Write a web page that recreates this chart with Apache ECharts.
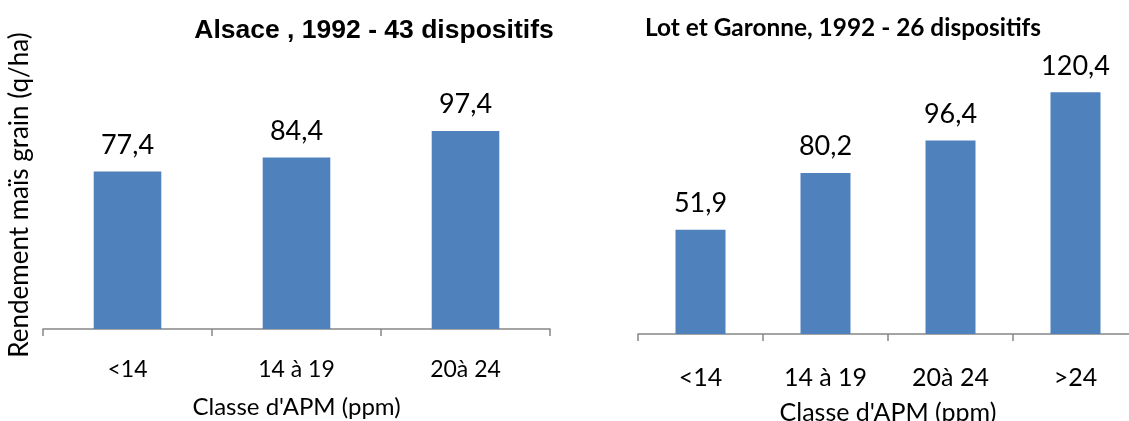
<!DOCTYPE html>
<html>
<head>
<meta charset="utf-8">
<script src="https://cdn.jsdelivr.net/npm/echarts@6/dist/echarts.min.js"></script>
<style>
  html, body { margin: 0; padding: 0; background: #fff; }
  #chart { width: 1129px; height: 421px; }
</style>
</head>
<body>
<div id="chart"></div>
<script>
// Maize grain yield by APM class, two regions (1992)
const alsaceCategories = ['<14', '14 à 19', '20à 24'];
const alsaceValues = [77.4, 84.4, 97.4];
const lotCategories = ['<14', '14 à 19', '20à 24', '>24'];
const lotValues = [51.9, 80.2, 96.4, 120.4];

const alsaceTitle = 'Alsace , 1992 - 43 dispositifs';
const lotTitle = 'Lot et Garonne, 1992 - 26 dispositifs';
const xAxisTitle = "Classe d'APM (ppm)";
const yAxisTitle = 'Rendement maïs grain (q/ha)';

const BAR = '#4F81BD';
const AXIS = '#868686';
const FONT = 'Lato, "Noto Sans", sans-serif';

const fmt = v => String(v.value).replace('.', ',');

function catAxis(gridIndex, cats, fontSize, margin, nameSize, nameGap) {
  return {
    type: 'category',
    gridIndex,
    data: cats,
    boundaryGap: true,
    axisLine: { lineStyle: { color: AXIS, width: 1.5 } },
    axisTick: { show: true, length: 7, lineStyle: { color: AXIS, width: 1.5 } },
    axisLabel: { color: '#000', fontFamily: FONT, fontSize, margin },
    name: xAxisTitle,
    nameLocation: 'middle',
    nameGap,
    nameTextStyle: { color: '#000', fontFamily: FONT, fontSize: nameSize }
  };
}

function valAxis(gridIndex, max) {
  return {
    type: 'value',
    gridIndex,
    min: 0,
    max,
    interval: 20,
    axisLine: { show: false },
    axisTick: { show: false },
    axisLabel: { show: false },
    splitLine: { show: false }
  };
}

function barSeries(idx, values) {
  return {
    type: 'bar',
    xAxisIndex: idx,
    yAxisIndex: idx,
    data: values,
    barWidth: '40%',
    itemStyle: { color: BAR },
    label: {
      show: true,
      position: 'top',
      distance: 13,
      formatter: fmt,
      color: '#000',
      fontFamily: FONT,
      fontSize: 27
    }
  };
}

const chart = echarts.init(document.getElementById('chart'), null, { renderer: 'canvas' });
chart.setOption({
  animation: false,
  backgroundColor: '#fff',
  title: [
    {
      text: alsaceTitle,
      left: 369, top: 12, textAlign: 'center',
      textStyle: { fontFamily: '"Liberation Sans", Arial, sans-serif', fontWeight: 'bold', fontSize: 26.5, color: '#000' }
    },
    {
      text: lotTitle,
      left: 838, top: 11, textAlign: 'center',
      textStyle: { fontFamily: FONT, fontWeight: 'bold', fontSize: 24.4, color: '#000' }
    }
  ],
  grid: [
    { left: 43, width: 507, top: 85, bottom: 92, outerBoundsMode: 'none', containLabel: false },
    // the second plot runs slightly past the right edge of the canvas
    { left: 638, width: 500, top: 53, bottom: 87, outerBoundsMode: 'none', containLabel: false }
  ],
  xAxis: [
    catAxis(0, alsaceCategories, 23, 29, 24, 66),
    catAxis(1, lotCategories, 25, 31, 25, 66)
  ],
  yAxis: [valAxis(0, 120), valAxis(1, 140)],
  series: [barSeries(0, alsaceValues), barSeries(1, lotValues)],
  graphic: [
    {
      type: 'text',
      x: 20, y: 195,
      rotation: Math.PI / 2,
      style: {
        text: yAxisTitle,
        fontFamily: FONT,
        fontSize: 26,
        fill: '#000',
        align: 'center',
        verticalAlign: 'middle'
      }
    }
  ]
});
</script>
</body>
</html>
